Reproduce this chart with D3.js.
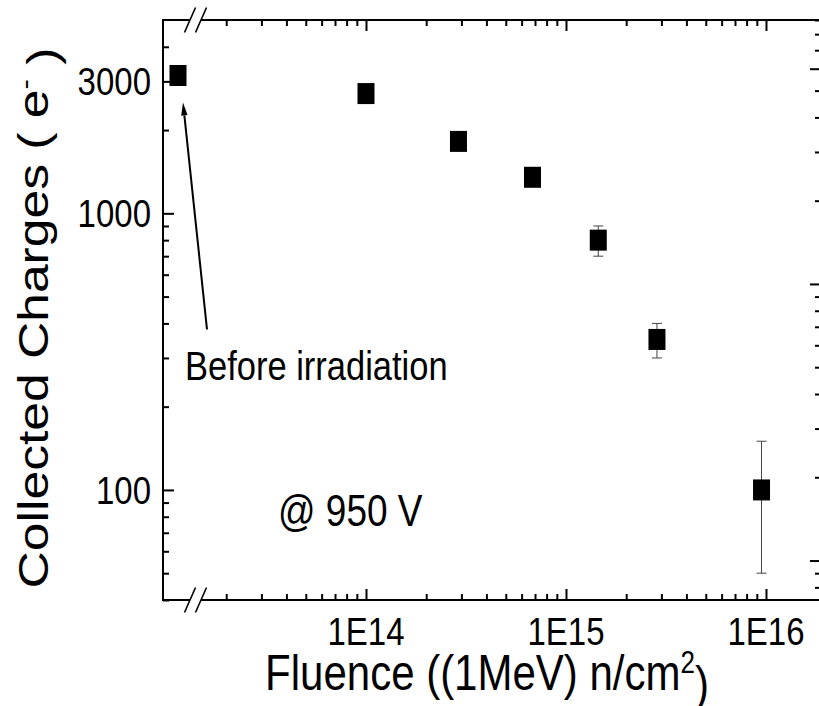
<!DOCTYPE html>
<html>
<head>
<meta charset="utf-8">
<script src="https://cdn.jsdelivr.net/npm/d3@7"></script>
<style>
  body { margin: 0; background: #fff; }
  text { font-family: "Liberation Sans", Arial, sans-serif; fill: #000; }
</style>
</head>
<body>
<svg id="chart"></svg>
<script>
// data
var fluence = [1e14, 2.9e14, 6.8e14, 1.45e15, 2.85e15, 9.5e15];
var charge = [2710, 1820, 1350, 800, 350, 100];
var chargeErr = [0, 0, 0, 100, 50, 50];

// the un-irradiated sample sits left of the axis break
var beforeGroup = ["before"];
var beforeCharge = [3150];

var xTickValues = [1e14, 1e15, 1e16];
var xTickLabels = ["1E14", "1E15", "1E16"];
var yTickValues = [100, 1000, 3000];
var yTickLabels = ["100", "1000", "3000"];

var width = 819, height = 706;
var box = {left: 163, top: 20, right: 821, bottom: 600};
var breakGap = [190, 201];      // gap cut in top / bottom axis
var stretch = 1.2;              // the picture is stretched vertically

var svg = d3.select("#chart")
    .attr("width", width)
    .attr("height", height);

svg.append("rect").attr("width", width).attr("height", height).attr("fill", "#fff");

// scales
var x = d3.scaleLog()
    .domain([1e13, 1.884e16])
    .range([166, box.right]);

var xBefore = d3.scalePoint()
    .domain(beforeGroup)
    .range([box.left, 193]);

var y = d3.scaleLog()
    .domain([40, 5000])
    .range([box.bottom, box.top]);

// right axis is on its own scale in the original
var yRight = d3.scaleLog()
    .domain([72, 9000])
    .range([box.bottom, box.top]);

var xMinor = x.ticks().filter(function(v) { return v > 1.6e13 && xTickValues.indexOf(v) < 0; });
var yMinor = y.ticks().filter(function(v) { return v < 5000 && yTickValues.indexOf(v) < 0; });
var yRightMajor = [100, 1000, 6000];
var yRightMinor = yRight.ticks().filter(function(v) { return yRightMajor.indexOf(v) < 0; });

function tickAxis(axis, values, len, tx, ty) {
    var g = svg.append("g")
        .attr("transform", "translate(" + tx + "," + ty + ")")
        .call(axis.tickValues(values).tickSize(-len).tickFormat(""));
    g.select(".domain").remove();
    g.selectAll("line").attr("stroke", "#000").attr("stroke-width", 2);
}

tickAxis(d3.axisBottom(x), xMinor, 6, 0, box.bottom);
tickAxis(d3.axisBottom(x), xTickValues, 11, 0, box.bottom);
tickAxis(d3.axisTop(x), xMinor, 6, 0, box.top);
tickAxis(d3.axisTop(x), xTickValues, 11, 0, box.top);
tickAxis(d3.axisLeft(y), yMinor, 6, box.left, 0);
tickAxis(d3.axisLeft(y), yTickValues, 11, box.left, 0);
tickAxis(d3.axisRight(yRight), yRightMinor, 6, box.right, 0);
tickAxis(d3.axisRight(yRight), yRightMajor, 11, box.right, 0);

// frame with breaks
var frame = svg.append("g").attr("stroke", "#000").attr("stroke-width", 2).attr("fill", "none");
frame.append("line").attr("x1", box.left).attr("x2", box.left).attr("y1", box.top - 1).attr("y2", box.bottom + 1);
frame.append("line").attr("x1", box.right).attr("x2", box.right).attr("y1", box.top).attr("y2", box.bottom);
[box.top, box.bottom].forEach(function(yy) {
    frame.append("line").attr("x1", box.left).attr("x2", breakGap[0]).attr("y1", yy).attr("y2", yy);
    frame.append("line").attr("x1", breakGap[1]).attr("x2", box.right + 1).attr("y1", yy).attr("y2", yy);
    breakGap.forEach(function(bx) {
        frame.append("line")
            .attr("stroke-width", 1.6)
            .attr("x1", bx - 5.5).attr("y1", yy + 12.5)
            .attr("x2", bx + 5.5).attr("y2", yy - 12.5);
    });
});

// tick labels
function label(txt, tx, ty, size, anchor) {
    return svg.append("text")
        .attr("transform", "translate(" + tx + "," + ty + ") scale(1," + stretch + ")")
        .attr("text-anchor", anchor)
        .style("font-size", size + "px")
        .text(txt);
}

xTickValues.forEach(function(v, i) {
    label(xTickLabels[i], x(v), 645, 33, "middle");
});
yTickValues.forEach(function(v, i) {
    label(yTickLabels[i], 151, y(v) + 14, 33, "end");
});

// axis titles
var xt = svg.append("text")
    .attr("transform", "translate(487,690) scale(1," + stretch + ")")
    .attr("text-anchor", "middle")
    .style("font-size", "42px");
xt.append("tspan").text("Fluence ((1MeV) n/cm");
xt.append("tspan").attr("dy", "-0.55em").style("font-size", "26px").text("2");
xt.append("tspan").attr("dy", "0.55em").text(")");

var yt = svg.append("text")
    .attr("transform", "translate(48,318) scale(1," + stretch + ") rotate(-90)")
    .attr("text-anchor", "middle")
    .style("font-size", "43px");
yt.append("tspan").text("Collected Charges ( e");
yt.append("tspan").attr("dy", "-0.55em").style("font-size", "26px").text("-");
yt.append("tspan").attr("dy", "0.55em").text(" )");

// error bars
var pts = fluence.map(function(f, i) { return {f: f, c: charge[i], e: chargeErr[i]}; });
var eb = svg.append("g").attr("stroke", "#444").attr("stroke-width", 1);
pts.filter(function(d) { return d.e > 0; }).forEach(function(d) {
    var cx = x(d.f);
    eb.append("line").attr("x1", cx).attr("x2", cx).attr("y1", y(d.c + d.e)).attr("y2", y(d.c - d.e));
    [d.c + d.e, d.c - d.e].forEach(function(v) {
        eb.append("line").attr("x1", cx - 5).attr("x2", cx + 5).attr("y1", y(v)).attr("y2", y(v));
    });
});

// markers
var mw = 17, mh = 21;
svg.append("g").selectAll("rect")
    .data(pts)
    .enter().append("rect")
    .attr("x", function(d) { return x(d.f) - mw / 2; })
    .attr("y", function(d) { return y(d.c) - mh / 2; })
    .attr("width", mw).attr("height", mh)
    .attr("fill", "#000");

svg.append("rect")
    .attr("x", xBefore(beforeGroup[0]) - mw / 2)
    .attr("y", y(beforeCharge[0]) - mh / 2)
    .attr("width", mw).attr("height", mh)
    .attr("fill", "#000");

// arrow pointing at the un-irradiated point
var bx = xBefore(beforeGroup[0]), by = y(beforeCharge[0]);
var tip = [bx + 5, by + 27], tail = [bx + 29, by + 254];
var ang = Math.atan2(tip[1] - tail[1], tip[0] - tail[0]);
var headLen = 13, headW = 3.2;
var base = [tip[0] - headLen * Math.cos(ang), tip[1] - headLen * Math.sin(ang)];
svg.append("line")
    .attr("x1", tail[0]).attr("y1", tail[1])
    .attr("x2", base[0]).attr("y2", base[1])
    .attr("stroke", "#000").attr("stroke-width", 2);
svg.append("path")
    .attr("d", "M" + tip[0] + "," + tip[1] +
        "L" + (base[0] + headW * Math.sin(ang)) + "," + (base[1] - headW * Math.cos(ang)) +
        "L" + (base[0] - headW * Math.sin(ang)) + "," + (base[1] + headW * Math.cos(ang)) + "Z")
    .attr("fill", "#000");

label("Before irradiation", 185, 380, 34.5, "start");
label("@ 950 V", 278, 526, 37, "start");
</script>
</body>
</html>
